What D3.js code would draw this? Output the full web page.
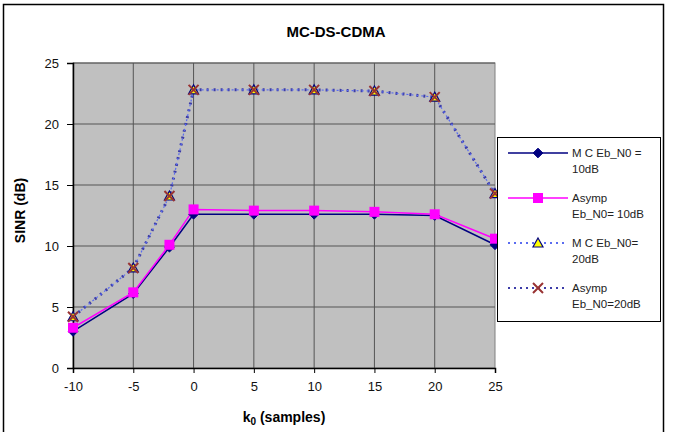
<!DOCTYPE html>
<html>
<head>
  <meta charset="utf-8">
  <script src="https://d3js.org/d3.v7.min.js"></script>
  <style>
    body { margin: 0; background: #fff; }
    text { font-family: "Liberation Sans", Arial, sans-serif; }
  </style>
</head>
<body>
  <div id="my_dataviz"></div>
  <script>
    // data
    var k0 = [-10, -5, -2, 0, 5, 10, 15, 20, 25];
    var mc10 = [3.0, 6.1, 9.9, 12.6, 12.6, 12.6, 12.6, 12.5, 10.1];
    var asymp10 = [3.3, 6.2, 10.1, 13.0, 12.9, 12.9, 12.8, 12.6, 10.6];
    var mc20 = [4.2, 8.2, 14.1, 22.8, 22.8, 22.8, 22.7, 22.2, 14.3];
    var asymp20 = [4.2, 8.2, 14.1, 22.8, 22.8, 22.8, 22.7, 22.2, 14.3];
    var xTicks = [-10, -5, 0, 5, 10, 15, 20, 25];
    var yTicks = [0, 5, 10, 15, 20, 25];
    var names = [["M C Eb_N0 =", "10dB"], ["Asymp", "Eb_N0= 10dB"], ["M C Eb_N0=", "20dB"], ["Asymp", "Eb_N0=20dB"]];

    var W = 674, H = 432;
    var margin = { top: 63, left: 73, right: 179, bottom: 64 };
    var width = W - margin.left - margin.right,
        height = H - margin.top - margin.bottom;

    var root = d3.select("#my_dataviz").append("svg")
      .attr("width", W).attr("height", H);

    // outer frame
    root.append("rect")
      .attr("x", 3.5).attr("y", 4.5).attr("width", 660).attr("height", 440)
      .attr("fill", "#fff").attr("stroke", "#000").attr("stroke-width", 1.5);

    root.append("text")
      .attr("x", 336).attr("y", 37)
      .style("text-anchor", "middle").style("font-size", "15px").style("font-weight", "bold")
      .text("MC-DS-CDMA");

    var svg = root.append("g")
      .attr("transform", "translate(" + margin.left + "," + margin.top + ")");

    var x = d3.scaleLinear().domain([-10, 25]).range([0, width]);
    var y = d3.scaleLinear().domain([0, 25]).range([height, 0]);

    svg.append("rect").attr("width", width).attr("height", height)
      .attr("fill", "#c0c0c0").attr("stroke", "#808080");

    // gridlines
    svg.append("g").selectAll("line").data(xTicks.slice(1, -1)).enter().append("line")
      .attr("x1", function(d) { return x(d); }).attr("x2", function(d) { return x(d); })
      .attr("y1", 0).attr("y2", height).attr("stroke", "#555").attr("stroke-width", 1);
    svg.append("g").selectAll("line").data(yTicks.slice(1)).enter().append("line")
      .attr("y1", function(d) { return y(d); }).attr("y2", function(d) { return y(d); })
      .attr("x1", 0).attr("x2", width).attr("stroke", "#555").attr("stroke-width", 1);

    // axes
    var fmt = function(d) { return String(d); };
    var xAxis = svg.append("g")
      .attr("transform", "translate(0," + height + ")")
      .call(d3.axisBottom(x).tickValues(xTicks).tickFormat(fmt).tickSize(5).tickPadding(9));
    var yAxis = svg.append("g")
      .call(d3.axisLeft(y).tickValues(yTicks).tickFormat(fmt).tickSize(6).tickPadding(8));
    [xAxis, yAxis].forEach(function(a) {
      a.select(".domain").attr("stroke", "#000").attr("stroke-width", 1.5);
      a.selectAll(".tick line").attr("stroke", "#000");
      a.selectAll("text").style("font-size", "13px").style("font-family", "Liberation Sans, Arial, sans-serif").attr("fill", "#111");
    });

    // axis titles
    var xl = svg.append("text")
      .attr("x", 211).attr("y", height + 54)
      .style("text-anchor", "middle").style("font-size", "14px").style("font-weight", "bold");
    xl.append("tspan").text("k");
    xl.append("tspan").attr("dy", 3).style("font-size", "10px").text("0");
    xl.append("tspan").attr("dy", -3).text(" (samples)");

    svg.append("text")
      .attr("transform", "rotate(-90)")
      .attr("x", -(height / 2) + 5).attr("y", -48)
      .style("text-anchor", "middle").style("font-size", "14px").style("font-weight", "bold")
      .text("SINR (dB)");

    var line = d3.line().x(function(d) { return x(d[0]); }).y(function(d) { return y(d[1]); });
    function pts(vals) { return k0.map(function(k, i) { return [k, vals[i]]; }); }

    var series = [
      { vals: mc10, color: "#000080", width: 1.5, dash: null, marker: "diamond" },
      { vals: asymp10, color: "#ff00ff", width: 1.5, dash: null, marker: "square" },
      { vals: asymp20, color: "#3c3ca8", width: 3, dash: "2,5", marker: "x" },
      { vals: mc20, color: "#5a6cf0", width: 1.2, dash: "2,3", marker: "triangle" }
    ];

    function drawMarker(g, type, cx, cy) {
      if (type === "diamond") {
        g.append("path").attr("d", d3.symbol().type(d3.symbolDiamond2).size(60)())
          .attr("transform", "translate(" + cx + "," + cy + ")")
          .attr("fill", "#000080").attr("stroke", "#000080");
      } else if (type === "square") {
        g.append("rect").attr("x", cx - 5).attr("y", cy - 5).attr("width", 10).attr("height", 10)
          .attr("fill", "#ff00ff");
      } else if (type === "triangle") {
        g.append("path").attr("d", "M" + cx + "," + (cy - 5) + "L" + (cx + 5) + "," + (cy + 4) + "L" + (cx - 5) + "," + (cy + 4) + "Z")
          .attr("fill", "#ffff00").attr("stroke", "#000080").attr("stroke-width", 1.2);
      } else {
        g.append("path").attr("d", "M" + (cx - 5) + "," + (cy - 5) + "L" + (cx + 5) + "," + (cy + 5) + "M" + (cx + 5) + "," + (cy - 5) + "L" + (cx - 5) + "," + (cy + 5))
          .attr("stroke", "#993333").attr("stroke-width", 2);
      }
    }

    series.forEach(function(s) {
      svg.append("path").datum(pts(s.vals))
        .attr("d", line).attr("fill", "none")
        .attr("stroke", s.color).attr("stroke-width", s.width)
        .attr("stroke-dasharray", s.dash);
    });
    // markers on top (triangles before X so X sits on top)
    var order = [0, 1, 3, 2];
    order.forEach(function(i) {
      var s = series[i];
      var g = svg.append("g");
      pts(s.vals).forEach(function(p) { drawMarker(g, s.marker, x(p[0]), y(p[1])); });
    });

    // legend
    var leg = root.append("g");
    leg.append("rect").attr("x", 497.5).attr("y", 137.5).attr("width", 163).attr("height", 184)
      .attr("fill", "#fff").attr("stroke", "#000").attr("stroke-width", 1);
    var legSeries = [series[0], series[1], series[3], series[2]];
    var legY = [153, 198, 243, 288];
    legSeries.forEach(function(s, i) {
      var ly = legY[i];
      leg.append("line").attr("x1", 508).attr("x2", 568).attr("y1", ly).attr("y2", ly)
        .attr("stroke", s.color).attr("stroke-width", s.dash ? 2 : 1.5)
        .attr("stroke-dasharray", s.dash ? "2,4" : null);
      drawMarker(leg, s.marker, 538, ly);
      leg.append("text").attr("x", 572).attr("y", ly + 4)
        .style("font-size", "11.5px").attr("fill", "#222").text(names[i][0]);
      leg.append("text").attr("x", 572).attr("y", ly + 20)
        .style("font-size", "11.5px").attr("fill", "#222").text(names[i][1]);
    });
  </script>
</body>
</html>
